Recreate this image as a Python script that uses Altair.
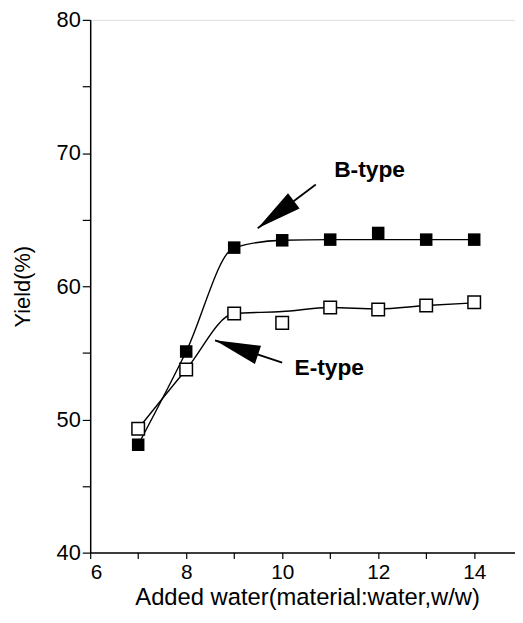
import altair as alt
import pandas as pd

# ---- data ----
water = [7, 8, 9, 10, 11, 12, 13, 14]
b_yield = [48.1, 55.1, 62.9, 63.45, 63.5, 64.0, 63.5, 63.5]
e_yield = [49.3, 53.75, 57.95, 57.25, 58.4, 58.25, 58.55, 58.8]
b_fit = [48.1, 55.1, 62.9, 63.45, 63.5, 63.5, 63.5, 63.5]
e_fit = [49.3, 53.75, 57.95, 58.1, 58.4, 58.3, 58.55, 58.75]

labels = ["B-type", "E-type"]
label_x = [11.82, 10.98]
label_y = [68.7, 53.85]
arrow_x_tail = [10.70, 10.0]
arrow_y_tail = [67.64, 54.26]
arrow_x_tip = [9.49, 8.6]
arrow_y_tip = [64.35, 55.94]
arrow_angle = [232.7, 288.7]

FONT = "Liberation Sans"

pts = pd.DataFrame({"x": water * 2,
                    "y": b_yield + e_yield,
                    "series": ["B"] * len(water) + ["E"] * len(water)})
fits = pd.DataFrame({"x": water * 2,
                     "y": b_fit + e_fit,
                     "series": ["B"] * len(water) + ["E"] * len(water)})
ann = pd.DataFrame({"label": labels, "lx": label_x, "ly": label_y,
                    "x1": arrow_x_tail, "y1": arrow_y_tail,
                    "x2": arrow_x_tip, "y2": arrow_y_tip,
                    "angle": arrow_angle})

xscale = alt.Scale(domain=[6, 14.85], nice=False, zero=False)
yscale = alt.Scale(domain=[40, 80], nice=False, zero=False)

xaxis = alt.Axis(values=list(range(6, 15)),
                 labelExpr="datum.value % 2 == 0 ? datum.label : ''",
                 title="Added water(material:water,w/w)",
                 grid=False, domainColor="black", tickColor="black",
                 tickSize=6, labelFont=FONT, labelFontSize=21, labelColor="black",
                 titleFont=FONT, titleFontSize=24, titleFontWeight="normal",
                 titleColor="black", labelPadding=3, titlePadding=3,
                 titleX=219,
                 domainWidth=1.5, tickWidth=1.2)
yaxis = alt.Axis(values=list(range(40, 81, 5)),
                 labelExpr="datum.value % 10 == 0 ? datum.label : ''",
                 title="Yield(%)",
                 grid=False, domainColor="black", tickColor="black",
                 tickSize=8, labelFont=FONT, labelFontSize=22, labelColor="black",
                 titleFont=FONT, titleFontSize=22, titleFontWeight="normal",
                 titleColor="black", labelPadding=2, titlePadding=22,
                 domainWidth=1.5, tickWidth=1.2)

base_x = alt.X("x:Q", scale=xscale, axis=xaxis)
base_y = alt.Y("y:Q", scale=yscale, axis=yaxis)

lines = alt.Chart(fits).mark_line(color="black", strokeWidth=1.4,
                                  interpolate="monotone").encode(
    x=base_x, y=base_y, detail="series:N")

filled = alt.Chart(pts).transform_filter("datum.series == 'B'").mark_point(
    shape="square", filled=True, color="black", size=160, opacity=1).encode(
    x="x:Q", y="y:Q")

opened = alt.Chart(pts).transform_filter("datum.series == 'E'").mark_point(
    shape="square", filled=True, fill="white", stroke="black", strokeWidth=1.5,
    size=160, opacity=1).encode(x="x:Q", y="y:Q")

arrows = alt.Chart(ann).mark_rule(color="black", strokeWidth=1.8).encode(
    x="x1:Q", y="y1:Q", x2="x2:Q", y2="y2:Q")

heads = alt.Chart(ann).mark_point(
    shape="M0,0L-0.42,2L0.42,2Z", filled=True, color="black", opacity=1,
    size=2100).encode(x="x2:Q", y="y2:Q", angle=alt.Angle("angle:Q", scale=None))

texts = alt.Chart(ann).mark_text(font=FONT, fontSize=23, fontWeight="bold",
                                 color="black").encode(
    x="lx:Q", y="ly:Q", text="label:N")

chart = alt.layer(lines, filled, opened, arrows, heads, texts).properties(
    width=429, height=538,
    autosize=alt.AutoSizeParams(type="none"),
    padding={"left": 83, "top": 9, "right": 0, "bottom": 60},
).configure_view(stroke="black", strokeWidth=1.5).configure(background="white")

chart.save("out.html", embed_options={"renderer": "svg", "actions": False})
